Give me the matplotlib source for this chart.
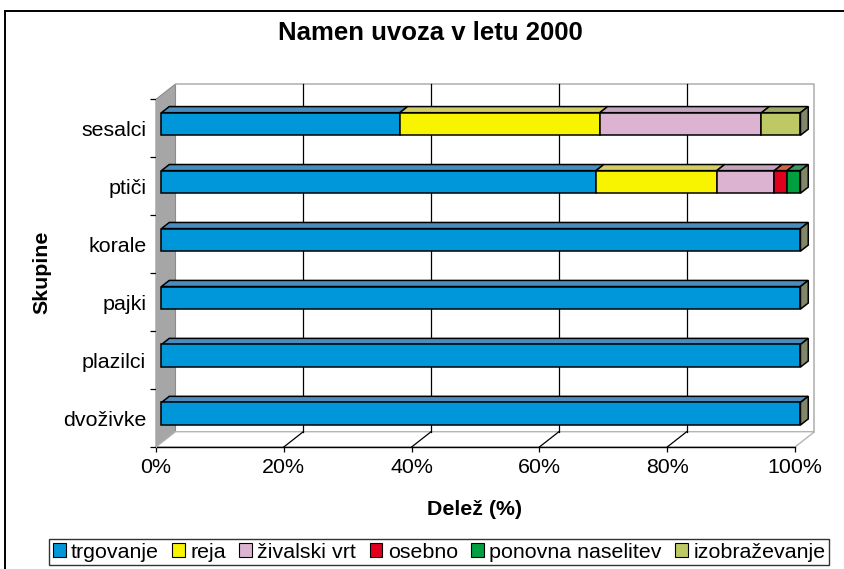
import matplotlib
matplotlib.use("Agg")
import matplotlib.pyplot as plt
from matplotlib.patches import Polygon, Rectangle, Patch
from matplotlib.lines import Line2D

plt.rcParams['font.family'] = ['Liberation Sans', 'DejaVu Sans']

# ---- data -------------------------------------------------------------
groups = ["dvoživke", "plazilci", "pajki", "korale", "ptiči", "sesalci"]
purposes = ["trgovanje", "reja", "živalski vrt", "osebno",
            "ponovna naselitev", "izobraževanje"]
trgovanje         = [100.0, 100.0, 100.0, 100.0, 68.0, 37.3]
reja              = [0.0, 0.0, 0.0, 0.0, 18.9, 31.3]
zivalski_vrt      = [0.0, 0.0, 0.0, 0.0, 9.0, 25.3]
osebno            = [0.0, 0.0, 0.0, 0.0, 2.0, 0.0]
ponovna_naselitev = [0.0, 0.0, 0.0, 0.0, 2.1, 0.0]
izobrazevanje     = [0.0, 0.0, 0.0, 0.0, 0.0, 6.1]
series = [trgovanje, reja, zivalski_vrt, osebno, ponovna_naselitev, izobrazevanje]
x_ticks = [0, 20, 40, 60, 80, 100]
x_ticklabels = ["0%", "20%", "40%", "60%", "80%", "100%"]

# ---- style ------------------------------------------------------------
front_colors = ["#0097DA", "#F8F400", "#DCB4D2", "#E0001E", "#00A040", "#BEC864"]
top_colors = ["#4A8CBE", "#D2CD64", "#C3A5BE", "#CD6446", "#3C9664", "#A0AA64"]
side_color = "#828769"
wall_color = "#A6A6A6"
frame_gray = "#B4B4B4"
FS = 15.4

W, H = 845, 569
fig = plt.figure(figsize=(W / 100, H / 100), dpi=100)
ax = fig.add_axes([156 / W, (H - 447) / H, 639 / W, (447 - 99.3) / H])
ax.set_xlim(0, 100)
ax.set_ylim(0, len(groups))
ax.patch.set_visible(False)

# oblique depth of the 3-D box, in pixels, converted to data units
depth_px = (19.5, 15.3)
DX = depth_px[0] / (639 / 100)
DY = depth_px[1] / ((447 - 99.3) / len(groups))
NY = len(groups)

def poly(pts, fc, ec, lw=1.0, z=1):
    ax.add_patch(Polygon(pts, closed=True, facecolor=fc, edgecolor=ec,
                         linewidth=lw, clip_on=False, zorder=z))

# left wall
poly([(0, 0), (0, NY), (DX, NY + DY), (DX, DY)], wall_color, "#8C8C8C", 0.8, 1)
# floor
poly([(0, 0), (100, 0), (100 + DX, DY), (DX, DY)], "white", frame_gray, 1.0, 1)
# back wall outline
ax.add_line(Line2D([DX, 100 + DX, 100 + DX], [NY + DY, NY + DY, DY],
                   color=frame_gray, lw=1.2, clip_on=False, zorder=1))
# gridlines on back wall and the floor diagonals
for v in x_ticks[1:-1]:
    ax.add_line(Line2D([v + DX, v + DX], [DY, NY + DY], color="black",
                       lw=0.9, clip_on=False, zorder=1.5))
    ax.add_line(Line2D([v, v + DX], [0, DY], color="black",
                       lw=0.9, clip_on=False, zorder=1.5))

# bars
fF, fB = 0.28, 0.68
half = 0.195
for i, name in enumerate(groups):
    c = i + 0.5
    bot, top = c - half, c + half
    left = 0.0
    for k, vals in enumerate(series):
        v = vals[i]
        if v <= 0:
            continue
        right = left + v
        poly([(left + fF * DX, top + fF * DY), (right + fF * DX, top + fF * DY),
              (right + fB * DX, top + fB * DY), (left + fB * DX, top + fB * DY)],
             top_colors[k], "black", 1.1, 3)
        poly([(left + fF * DX, bot + fF * DY), (right + fF * DX, bot + fF * DY),
              (right + fF * DX, top + fF * DY), (left + fF * DX, top + fF * DY)],
             front_colors[k], "black", 1.1, 3)
        left = right
    poly([(left + fF * DX, bot + fF * DY), (left + fF * DX, top + fF * DY),
          (left + fB * DX, top + fB * DY), (left + fB * DX, bot + fB * DY)],
         side_color, "black", 1.1, 3)

# axes
for s in ["top", "right"]:
    ax.spines[s].set_visible(False)
ax.spines["left"].set_color(wall_color)
ax.spines["bottom"].set_color("black")
ax.spines["bottom"].set_linewidth(1.0)
ax.spines["bottom"].set_zorder(2)

ax.set_xticks(x_ticks)
ax.set_xticklabels(x_ticklabels, fontsize=FS)
ax.tick_params(axis="x", direction="out", length=3.8, width=0.9, pad=4)

ax.set_yticks([i + 0.5 for i in range(NY)])
ax.set_yticklabels(groups, fontsize=FS)
ax.set_yticks(range(NY + 1), minor=True)
ax.tick_params(axis="y", which="major", length=0, pad=7)
ax.tick_params(axis="y", which="minor", direction="out", length=4.5, width=0.9)

ax.set_xlabel("Delež (%)", fontsize=FS, fontweight="bold")
ax.xaxis.set_label_coords(0.499, -0.152)
ax.xaxis.label.set_verticalalignment("top")

fig.text(42 / W, 1 - 272.5 / H, "Skupine", rotation=90, ha="center",
         va="center", fontsize=FS, fontweight="bold")
fig.text(430 / W, 1 - 33 / H, "Namen uvoza v letu 2000", ha="center",
         va="center", fontsize=18.5, fontweight="bold")

# outer chart border
fig.add_artist(Rectangle((5.5 / W, -0.05), 1.2, 1.05 - 11 / H,
                         transform=fig.transFigure, fill=False,
                         edgecolor="black", linewidth=1.4))

# legend
handles = [Patch(facecolor=c, edgecolor="black", linewidth=0.8) for c in front_colors]
leg = fig.legend(handles, purposes, loc="center", ncol=6,
                 bbox_to_anchor=(439 / W, 1 - 552 / H), fontsize=FS,
                 frameon=True, fancybox=False, handlelength=0.6,
                 handleheight=0.6, handletextpad=0.25, columnspacing=0.62,
                 borderpad=0.15, borderaxespad=0)
leg.get_frame().set_edgecolor("black")
leg.get_frame().set_linewidth(1.0)

fig.savefig("out.png", dpi=100)
